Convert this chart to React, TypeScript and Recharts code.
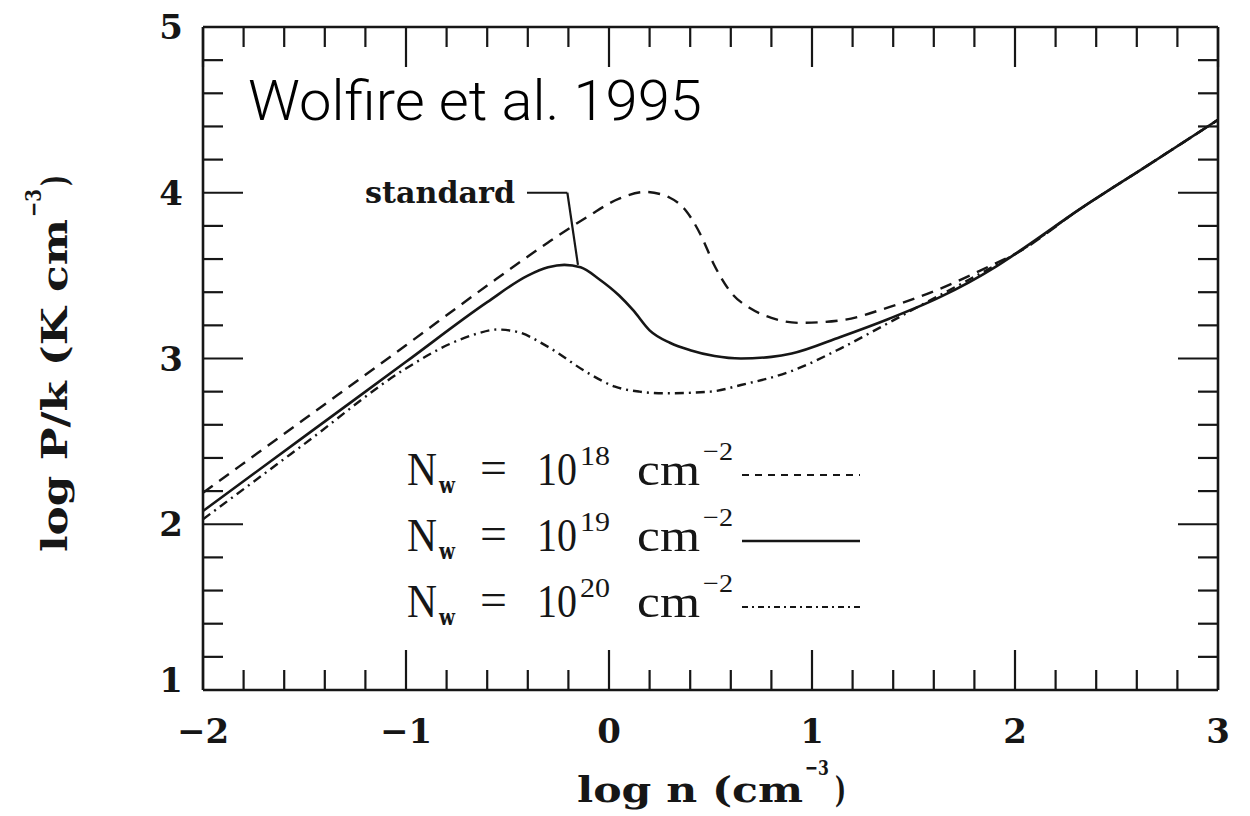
import React from 'react';
import { LineChart, Line, XAxis, YAxis, ReferenceLine } from 'recharts';

// N_w = 1e18 cm^-2 (dashed)
const logN18 = [-2.0, -1.5, -1.0, -0.6, -0.3, -0.1, 0.05, 0.18, 0.3, 0.38, 0.45, 0.52, 0.6, 0.7, 0.8, 0.94, 1.14, 1.38, 1.63, 1.88, 2.0, 2.33, 2.66, 3.0];
const logP18 = [2.19, 2.635, 3.08, 3.44, 3.70, 3.86, 3.965, 4.005, 3.97, 3.89, 3.75, 3.56, 3.40, 3.30, 3.245, 3.215, 3.23, 3.31, 3.42, 3.56, 3.63, 3.91, 4.17, 4.44];

// N_w = 1e19 cm^-2 (solid, "standard")
const logN19 = [-2.0, -1.5, -1.0, -0.6, -0.4, -0.3, -0.22, -0.14, -0.05, 0.05, 0.12, 0.2, 0.3, 0.4, 0.52, 0.65, 0.8, 0.9, 1.14, 1.38, 1.63, 1.9, 2.0, 2.33, 2.66, 3.0];
const logP19 = [2.08, 2.53, 2.98, 3.34, 3.50, 3.55, 3.565, 3.55, 3.48, 3.38, 3.29, 3.17, 3.095, 3.05, 3.015, 3.0, 3.01, 3.03, 3.13, 3.24, 3.37, 3.55, 3.63, 3.91, 4.17, 4.44];

// N_w = 1e20 cm^-2 (dash-dot)
const logN20 = [-2.0, -1.5, -1.0, -0.78, -0.65, -0.55, -0.45, -0.3, -0.1, 0.03, 0.15, 0.27, 0.5, 0.65, 0.89, 1.14, 1.34, 1.55, 1.75, 1.9, 2.0, 2.33, 2.66, 3.0];
const logP20 = [2.03, 2.485, 2.94, 3.09, 3.15, 3.175, 3.16, 3.07, 2.91, 2.83, 2.80, 2.79, 2.80, 2.84, 2.92, 3.06, 3.19, 3.33, 3.46, 3.56, 3.63, 3.91, 4.17, 4.44];

const xTicks = [-2, -1.8, -1.6, -1.4, -1.2, -1, -0.8, -0.6, -0.4, -0.2, 0, 0.2, 0.4, 0.6, 0.8, 1, 1.2, 1.4, 1.6, 1.8, 2, 2.2, 2.4, 2.6, 2.8, 3];
const yTicks = [1, 1.2, 1.4, 1.6, 1.8, 2, 2.2, 2.4, 2.6, 2.8, 3, 3.2, 3.4, 3.6, 3.8, 4, 4.2, 4.4, 4.6, 4.8, 5];
const xMajor = [-2, -1, 0, 1, 2, 3];
const xMajorLabels = ['\u22122', '\u22121', '0', '1', '2', '3'];
const yMajor = [1, 2, 3, 4, 5];
const yMajorLabels = ['1', '2', '3', '4', '5'];

const legendExponents = ['18', '19', '20'];

const INK = '#161616';
const SERIF = "'DejaVu Serif', 'Liberation Serif', serif";
const LEGEND_SERIF = "'Liberation Serif', 'DejaVu Serif', serif";

const toPoints = (xs: number[], ys: number[]) => xs.map((x, i) => ({ x, y: ys[i] }));
const data18 = toPoints(logN18, logP18);
const data19 = toPoints(logN19, logP19);
const data20 = toPoints(logN20, logP20);

const isMajor = (v: number) => Math.abs(v - Math.round(v)) < 1e-6;
const MAJOR = 40;
const MINOR = 20;

const BottomTick = (props: any) => {
    const { x, y, payload } = props;
    const v = payload.value;
    const major = isMajor(v);
    const idx = xMajor.indexOf(Math.round(v));
    return (
        <g>
            <line x1={x} y1={y} x2={x} y2={y - (major ? MAJOR : MINOR)} stroke={INK} strokeWidth={2.2} />
            {major && (
                <text x={x} y={y + 53} textAnchor="middle" fontFamily={SERIF} fontWeight="bold" fontSize={34} fill={INK}>
                    {xMajorLabels[idx]}
                </text>
            )}
        </g>
    );
};

const TopTick = (props: any) => {
    const { x, y, payload } = props;
    const major = isMajor(payload.value);
    return <line x1={x} y1={y} x2={x} y2={y + (major ? MAJOR : MINOR)} stroke={INK} strokeWidth={2.2} />;
};

const LeftTick = (props: any) => {
    const { x, y, payload } = props;
    const v = payload.value;
    const major = isMajor(v);
    const idx = yMajor.indexOf(Math.round(v));
    return (
        <g>
            <line x1={x} y1={y} x2={x + (major ? MAJOR : MINOR)} y2={y} stroke={INK} strokeWidth={2.2} />
            {major && (
                <text x={x - 20} y={y + 12 - (v === 1 ? 10 : 0)} textAnchor="end" fontFamily={SERIF} fontWeight="bold" fontSize={34} fill={INK}>
                    {yMajorLabels[idx]}
                </text>
            )}
        </g>
    );
};

const RightTick = (props: any) => {
    const { x, y, payload } = props;
    const major = isMajor(payload.value);
    return <line x1={x} y1={y} x2={x - (major ? MAJOR : MINOR)} y2={y} stroke={INK} strokeWidth={2.2} />;
};

const axisLine = { stroke: INK, strokeWidth: 2.6 };

const Annotations = () => (
    <svg width={1250} height={816} style={{ position: 'absolute', left: 0, top: 0, pointerEvents: 'none' }}>
        {/* title */}
        <text x={248} y={120} fontFamily="Roboto, 'Open Sans', Lato, sans-serif" fontWeight={300} fontSize={56}
            textLength={454} lengthAdjust="spacingAndGlyphs" fill="#000">Wolfire et al. 1995</text>

        {/* standard label */}
        <text x={365} y={203} fontFamily={SERIF} fontWeight="bold" fontSize={29}
            textLength={150} lengthAdjust="spacingAndGlyphs" fill={INK}>standard</text>

        {/* x axis title */}
        <text x={577} y={802} fontFamily={SERIF} fontWeight="bold" fontSize={36}
            textLength={226} lengthAdjust="spacingAndGlyphs" fill={INK}>log n (cm</text>
        <text x={805} y={775} fontFamily={SERIF} fontWeight="bold" fontSize={21}
            textLength={24} lengthAdjust="spacingAndGlyphs" fill={INK}>{'\u22123'}</text>
        <text x={835} y={802} fontFamily={SERIF} fontWeight="bold" fontSize={36}
            textLength={11} lengthAdjust="spacingAndGlyphs" fill={INK}>)</text>

        {/* y axis title */}
        <g transform="translate(67,365) rotate(-90)">
            <text x={-187} y={0} fontFamily={SERIF} fontWeight="bold" fontSize={36}
                textLength={333} lengthAdjust="spacingAndGlyphs" fill={INK}>log P/k (K cm</text>
            <text x={148} y={-26} fontFamily={SERIF} fontWeight="bold" fontSize={22}
                textLength={28} lengthAdjust="spacingAndGlyphs" fill={INK}>{'\u22123'}</text>
            <text x={179} y={0} fontFamily={SERIF} fontWeight="bold" fontSize={36}
                textLength={11} lengthAdjust="spacingAndGlyphs" fill={INK}>)</text>
        </g>

        {/* legend */}
        {legendExponents.map((exp, i) => {
            const base = 485 + i * 66;
            const ly = 475 + i * 66;
            const dash = i === 0 ? '7 6' : i === 2 ? '6 4 2 4' : undefined;
            return (
                <g key={exp} fill={INK} fontFamily={LEGEND_SERIF}>
                    <text x={407} y={base} fontSize={46} textLength={30} lengthAdjust="spacingAndGlyphs">N</text>
                    <text x={439} y={base + 8} fontSize={22} fontFamily={SERIF} fontWeight="bold" textLength={16} lengthAdjust="spacingAndGlyphs">w</text>
                    <text x={480} y={base - 2} fontSize={46} textLength={27} lengthAdjust="spacingAndGlyphs">=</text>
                    <text x={537} y={base} fontSize={46} textLength={40} lengthAdjust="spacingAndGlyphs">10</text>
                    <text x={580} y={base - 20} fontSize={28} textLength={30} lengthAdjust="spacingAndGlyphs">{exp}</text>
                    <text x={637} y={base} fontSize={46} textLength={63} lengthAdjust="spacingAndGlyphs">cm</text>
                    <text x={703} y={base - 25} fontSize={26} textLength={30} lengthAdjust="spacingAndGlyphs">{'\u22122'}</text>
                    <line x1={742} y1={ly} x2={860} y2={ly} stroke={INK} strokeWidth={i === 1 ? 2.6 : 2} strokeDasharray={dash} />
                </g>
            );
        })}
    </svg>
);

const App: React.FC = () => (
    <div style={{ position: 'absolute', left: 0, top: 0, width: 1250, height: 816, background: '#fff' }}>
        <LineChart width={1250} height={816} margin={{ top: 26, right: 31, bottom: 125, left: 202 }}>
            <XAxis xAxisId="bottom" dataKey="x" type="number" domain={[-2, 3]} allowDataOverflow ticks={xTicks}
                interval={0} height={1} tickSize={0} tickMargin={0} tickLine={false} axisLine={axisLine} tick={BottomTick} />
            <XAxis xAxisId="top" orientation="top" dataKey="x" type="number" domain={[-2, 3]} allowDataOverflow ticks={xTicks}
                interval={0} height={1} tickSize={0} tickMargin={0} tickLine={false} axisLine={axisLine} tick={TopTick} />
            <YAxis yAxisId="left" type="number" domain={[1, 5]} allowDataOverflow ticks={yTicks}
                interval={0} width={1} tickSize={0} tickMargin={0} tickLine={false} axisLine={axisLine} tick={LeftTick} />
            <YAxis yAxisId="right" orientation="right" type="number" domain={[1, 5]} allowDataOverflow ticks={yTicks}
                interval={0} width={1} tickSize={0} tickMargin={0} tickLine={false} axisLine={axisLine} tick={RightTick} />

            <Line xAxisId="bottom" yAxisId="left" data={data18} dataKey="y" type="monotone" stroke={INK}
                strokeWidth={2.4} strokeDasharray="12 8" dot={false} isAnimationActive={false} />
            <Line xAxisId="bottom" yAxisId="left" data={data19} dataKey="y" type="monotone" stroke={INK}
                strokeWidth={2.6} dot={false} isAnimationActive={false} />
            <Line xAxisId="bottom" yAxisId="left" data={data20} dataKey="y" type="monotone" stroke={INK}
                strokeWidth={2.4} strokeDasharray="9 5 2 5" dot={false} isAnimationActive={false} />

            {/* leader from the "standard" label to the solid curve */}
            <ReferenceLine xAxisId="bottom" yAxisId="left" segment={[{ x: -0.404, y: 4.0 }, { x: -0.205, y: 4.0 }]}
                stroke={INK} strokeWidth={2.2} />
            <ReferenceLine xAxisId="bottom" yAxisId="left" segment={[{ x: -0.205, y: 4.0 }, { x: -0.153, y: 3.565 }]}
                stroke={INK} strokeWidth={2.2} />
        </LineChart>
        <Annotations />
    </div>
);

export default App;
